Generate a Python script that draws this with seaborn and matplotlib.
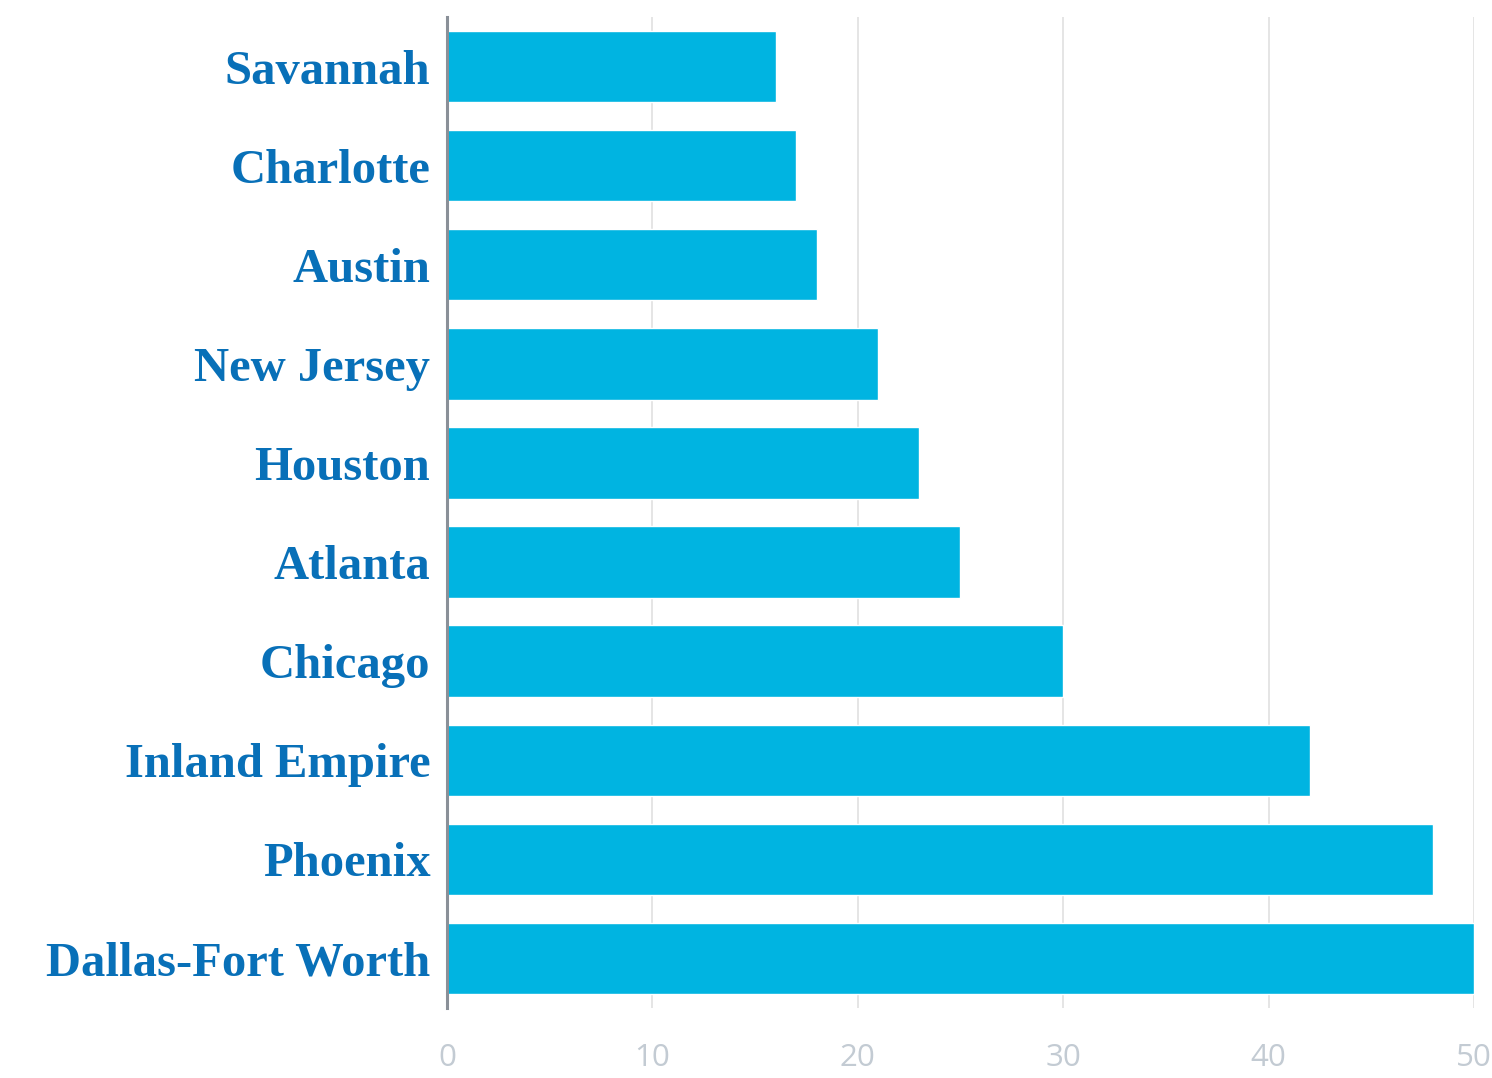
import matplotlib
matplotlib.use("Agg")
import matplotlib.pyplot as plt
import matplotlib.transforms as mtransforms
import seaborn as sns
import pandas as pd

cities = ["Savannah", "Charlotte", "Austin", "New Jersey", "Houston", "Atlanta",
          "Chicago", "Inland Empire", "Phoenix", "Dallas-Fort Worth"]
values = [16, 17, 18, 21, 23, 25, 30, 42, 48, 50]
xticks = [0, 10, 20, 30, 40, 50]

df = pd.DataFrame({"city": cities, "value": values})

sns.set_theme(style="white")
fig = plt.figure(figsize=(14.92, 10.78), dpi=100)
ax = fig.add_axes([447/1492, 1 - 1008/1078, (1474 - 447)/1492, (1008 - 17)/1078])

sns.barplot(data=df, x="value", y="city", orient="h", color="#00b4e1",
            saturation=1, width=0.72, ax=ax)

ax.set_xlim(0, 50)
ax.set_ylim(9.5, -0.5)
ax.set_xticks(xticks)
ax.set_xticklabels([str(t) for t in xticks], family="Open Sans", fontsize=22.5,
                   color="#c3cbd3")
ax.set_yticks(range(len(cities)))
ax.set_yticklabels(cities, family="Liberation Serif", fontweight="bold",
                   fontsize=35, color="#0870b8")
offset = mtransforms.ScaledTranslation(0, 4/100, fig.dpi_scale_trans)
for lbl in ax.get_yticklabels():
    lbl.set_verticalalignment("center_baseline")
    lbl.set_transform(lbl.get_transform() + offset)
ax.tick_params(axis="x", length=0, pad=25)
ax.tick_params(axis="y", length=0, pad=12)
ax.set_xlabel("")
ax.set_ylabel("")

ax.grid(axis="x", color="#e3e3e3", linewidth=1.3)
ax.set_axisbelow(True)
for s in ["top", "right", "bottom"]:
    ax.spines[s].set_visible(False)
ax.spines["left"].set_color("#8a9098")
ax.spines["left"].set_linewidth(2.2)
ax.spines["left"].set_zorder(5)

fig.savefig("out.png", dpi=100)
